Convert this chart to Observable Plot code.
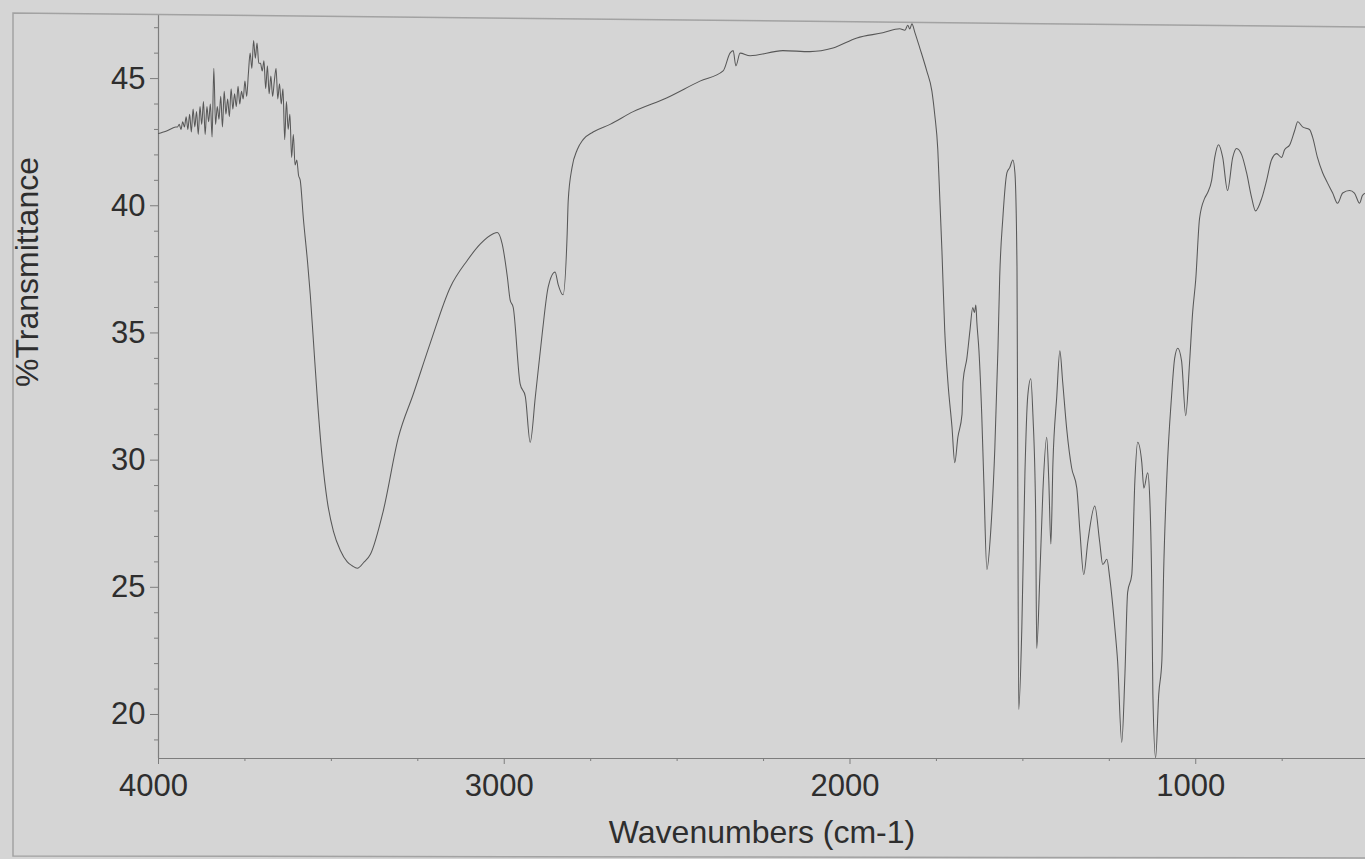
<!DOCTYPE html>
<html>
<head>
<meta charset="utf-8">
<script src="https://cdn.jsdelivr.net/npm/d3@7"></script>
<script src="https://cdn.jsdelivr.net/npm/@observablehq/plot@0.6"></script>
<style>
html, body { margin: 0; padding: 0; background: #d5d5d5; }
#wrap { position: relative; width: 1365px; height: 859px; overflow: hidden; background: #d5d5d5; }
#wrap svg.deco { position: absolute; left: 0; top: 0; pointer-events: none; }
</style>
</head>
<body>
<div id="wrap"></div>
<script>
// Wavenumbers (cm-1)
const wavenumber = [
  4000, 3990, 3975, 3960, 3950,
  3945, 3940, 3935, 3930, 3925, 3920, 3915, 3910, 3905, 3900,
  3895, 3890, 3885, 3880, 3875, 3870, 3865, 3860, 3855, 3850,
  3845, 3840, 3835, 3830, 3825, 3820, 3815, 3810, 3805, 3800,
  3795, 3790, 3785, 3780, 3775, 3770, 3765, 3760, 3755, 3750,
  3745, 3740, 3735, 3730, 3725, 3720, 3715, 3710, 3705, 3700,
  3695, 3690, 3685, 3680, 3675, 3670, 3665, 3660, 3655, 3650,
  3645, 3640, 3635, 3630, 3625, 3620, 3615, 3610, 3605, 3600,
  3595, 3590,
  3581, 3569, 3561, 3552, 3540, 3526, 3512, 3494, 3474, 3454,
  3440, 3425, 3405, 3387, 3350, 3306, 3263, 3214, 3156, 3107,
  3069, 3032, 3020, 3006, 2991, 2983, 2974, 2954, 2939, 2925,
  2910, 2890, 2873, 2853, 2844, 2830, 2818, 2815, 2804, 2789,
  2772, 2743, 2694, 2627, 2529, 2434, 2367, 2347, 2338, 2330,
  2318, 2289, 2194, 2116, 2049, 1980, 1905, 1856, 1841, 1833,
  1827, 1821, 1812, 1798, 1778, 1763, 1755, 1746, 1740, 1734,
  1726, 1717, 1705, 1697, 1688, 1676, 1673, 1662, 1653, 1645,
  1640, 1636, 1633, 1627, 1619, 1613, 1604, 1593, 1581, 1572,
  1567, 1558, 1546, 1538, 1529, 1523, 1517, 1515, 1512, 1503,
  1494, 1486, 1477, 1471, 1463, 1460, 1451, 1442, 1431, 1425,
  1419, 1413, 1402, 1393, 1385, 1373, 1359, 1344, 1335, 1324,
  1312, 1292, 1278, 1269, 1257, 1249, 1234, 1226, 1214, 1205,
  1197, 1185, 1176, 1168, 1156, 1150, 1139, 1133, 1127, 1124,
  1116, 1107, 1098, 1093, 1084, 1070, 1061, 1052, 1041, 1029,
  1018, 1009, 1000, 989, 974, 966, 954, 945, 934, 922,
  908, 893, 882, 867, 853, 838, 827, 809, 795, 781,
  766, 752, 743, 728, 714, 705, 691, 671, 662, 648,
  633, 619, 604, 590, 575, 555, 541, 526, 518, 509
];
// %Transmittance at each wavenumber
const transmittance = [
  42.84, 42.88, 42.95, 43.05, 43.1,
  43.1, 43.2, 43.0, 43.3, 43.1, 43.5, 43.0, 43.6, 42.9, 43.8,
  43.1, 43.7, 42.8, 43.9, 43.2, 44.1, 42.8, 43.9, 43.3, 44.0,
  42.7, 45.4, 43.2, 43.9, 43.4, 44.3, 43.1, 44.5, 43.6, 44.2,
  43.5, 44.6, 43.8, 44.4, 43.9, 44.7, 44.0, 44.5, 44.2, 44.9,
  44.3, 45.2, 46.0, 45.4, 46.5, 45.8, 46.4, 45.6, 45.6, 45.3,
  45.7, 44.6, 45.5, 44.4, 45.1, 44.3, 44.9, 45.4, 44.2, 44.8,
  44.0, 44.6, 42.6, 44.1, 43.0, 43.6, 41.9, 42.8, 41.6, 41.8,
  41.2, 41.0,
  39.5, 37.8, 36.5, 34.7, 32.3, 30.0, 28.4, 27.2, 26.45, 26.0,
  25.85, 25.75, 26.0, 26.3, 28.0, 30.9, 32.6, 34.6, 36.8, 37.85,
  38.5, 38.9, 38.95, 38.5, 37.2, 36.3, 36.0, 33.0, 32.5, 30.7,
  32.5, 35.0, 36.8, 37.4, 36.9, 36.5, 38.9, 40.2, 41.5, 42.2,
  42.6, 42.9, 43.2, 43.7, 44.25, 44.9, 45.3, 46.0, 46.1, 45.5,
  46.0, 45.9, 46.1, 46.06, 46.2, 46.6, 46.8, 46.96, 46.9, 47.1,
  46.95, 47.15, 46.8, 46.2, 45.3, 44.5, 43.6, 42.2, 40.2, 38.2,
  35.1, 33.1, 31.3, 29.9, 30.9, 31.8, 33.1, 34.0, 35.1, 36.0,
  35.8, 36.1, 35.4, 34.3, 31.8, 29.2, 25.7, 27.2, 30.5, 34.4,
  37.2, 39.5, 41.3, 41.5, 41.8, 41.3, 37.6, 30.5, 20.2, 23.4,
  29.5, 32.5, 33.2, 31.8, 27.9, 22.6, 25.4, 28.8, 30.9, 29.2,
  26.7, 29.9, 32.5, 34.3, 33.1, 31.2, 29.7, 28.9, 27.2, 25.5,
  26.8, 28.2, 26.8, 25.9, 26.1, 25.4, 23.4, 22.1, 18.9, 21.5,
  24.8, 25.5, 29.2, 30.7, 29.9, 28.9, 29.5, 28.5, 24.8, 20.8,
  18.3, 20.8, 22.1, 25.5, 29.2, 32.5, 34.0, 34.4, 33.9, 31.75,
  33.8, 35.8, 37.1, 39.5, 40.3, 40.5, 41.0, 41.9, 42.4, 41.9,
  40.6, 41.9, 42.25, 42.0, 41.3, 40.3, 39.8, 40.3, 41.0, 41.8,
  42.05, 41.9, 42.2, 42.4, 42.95, 43.3, 43.1, 43.0, 42.7, 41.9,
  41.3, 40.9, 40.5, 40.1, 40.5, 40.6, 40.5, 40.1, 40.4, 40.5
];
const xTicks = [4000, 3000, 2000, 1000];
const xMinorTicks = [3750, 3500, 3250, 2750, 2500, 2250, 1750, 1500, 1250, 750];
const yTicks = [20, 25, 30, 35, 40, 45];
const yMinorTicks = [19, 21, 22, 23, 24, 26, 27, 28, 29, 31, 32, 33, 34, 36, 37, 38, 39, 41, 42, 43, 44, 46, 47];
const xDomain = [4000, 509];
const yDomain = [18.27, 47.48];
const xTitle = "Wavenumbers (cm-1)";
const yTitle = "%Transmittance";

const spectrum = wavenumber.map((w, i) => ({wavenumber: w, transmittance: transmittance[i]}));

const W = 1365, H = 859;
const axisColor = "#7d7d7d";
const textColor = "#2e2e2e";
const font = "'Liberation Sans', Arial, Helvetica, sans-serif";

const chart = Plot.plot({
  width: W,
  height: H,
  marginLeft: 158,
  marginRight: 0,
  marginTop: 15,
  marginBottom: 101,
  style: {background: "transparent", fontFamily: font, color: textColor, overflow: "visible"},
  x: {domain: xDomain, axis: null},
  y: {domain: yDomain, axis: null},
  marks: [
    Plot.ruleX([xDomain[0]], {stroke: axisColor, strokeWidth: 1.2}),
    Plot.ruleY([yDomain[0]], {stroke: axisColor, strokeWidth: 1.2}),
    Plot.axisY(yMinorTicks, {anchor: "left", tickSize: 4, tickFormat: () => "", label: null, stroke: axisColor}),
    Plot.axisY(yTicks, {anchor: "left", tickSize: 8, tickPadding: 5, fontSize: 31, fill: textColor, stroke: axisColor, label: null}),
    Plot.axisX(xMinorTicks, {anchor: "bottom", tickSize: 3, tickFormat: () => "", label: null, stroke: axisColor}),
    Plot.axisX(xTicks, {anchor: "bottom", tickSize: 6, tickFormat: () => "", label: null, stroke: axisColor}),
    Plot.text(xTicks, {x: d => d, text: d => String(d), frameAnchor: "bottom", lineAnchor: "top", dy: 15, dx: -5, fontSize: 31, fill: textColor}),
    Plot.text([xTitle], {frameAnchor: "bottom", lineAnchor: "bottom", dy: 84, fontSize: 32, fill: textColor}),
    Plot.text([yTitle], {frameAnchor: "left", rotate: -90, dx: -131, fontSize: 32, fill: textColor}),
    Plot.line(spectrum, {x: "wavenumber", y: "transmittance", curve: "monotone-x", stroke: "#585858", strokeWidth: 1.05, clip: true})
  ]
});

const wrap = document.getElementById("wrap");
wrap.appendChild(chart);

// paper frame around the chart (decoration)
const ns = "http://www.w3.org/2000/svg";
const deco = document.createElementNS(ns, "svg");
deco.setAttribute("class", "deco");
deco.setAttribute("width", W);
deco.setAttribute("height", H);
const p = document.createElementNS(ns, "path");
p.setAttribute("d", "M1365,27 L13,13 L13,856 L1365,858");
p.setAttribute("fill", "none");
p.setAttribute("stroke", "#a2a2a2");
p.setAttribute("stroke-width", "1.5");
deco.appendChild(p);
wrap.appendChild(deco);
</script>
</body>
</html>
